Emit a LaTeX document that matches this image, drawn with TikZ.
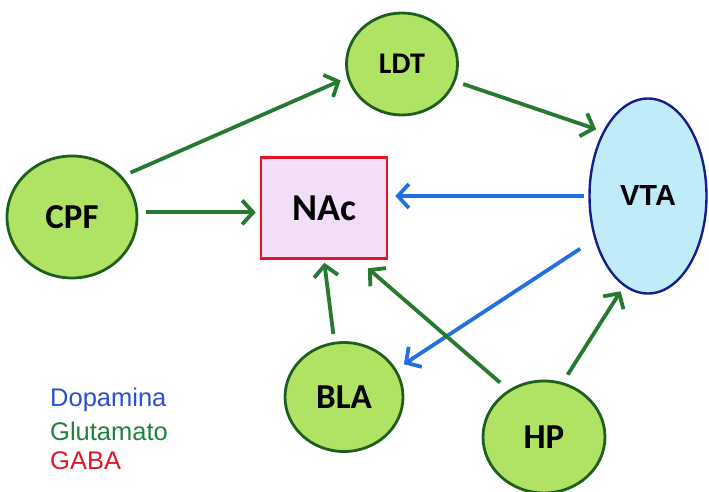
\documentclass[tikz,border=0pt]{standalone}
\usepackage{fontspec}
\setmainfont{Liberation Sans}
\newfontfamily\labfont{Carlito}
\usetikzlibrary{shapes.geometric,arrows.meta,calc}
\definecolor{nodegreen}{RGB}{176,226,100}
\definecolor{bordergreen}{RGB}{30,95,30}
\definecolor{arrgreen}{RGB}{38,122,48}
\definecolor{arrblue}{RGB}{32,112,225}
\definecolor{nacfill}{RGB}{242,222,246}
\definecolor{nacborder}{RGB}{228,22,40}
\definecolor{vtafill}{RGB}{192,236,250}
\definecolor{vtaborder}{RGB}{22,30,140}
\definecolor{legblue}{RGB}{40,80,210}
\definecolor{leggreen}{RGB}{30,130,60}
\definecolor{legred}{RGB}{222,22,40}
\tikzset{
  region/.style={ellipse, draw=bordergreen, fill=nodegreen, line width=2.8pt, inner sep=0pt,
    font=\labfont\bfseries\fontsize{35}{38}\selectfont},
  glu/.style={draw=arrgreen, line width=3.8pt, -{Straight Barb[length=11pt,width=24pt,line width=3.8pt]}},
  dop/.style={draw=arrblue, line width=3.8pt, -{Straight Barb[length=11pt,width=24pt,line width=3.8pt]}},
  legend/.style={anchor=west, inner sep=0pt, font=\fontsize{25.5}{27}\selectfont}
}
\begin{document}
\begin{tikzpicture}[x=1pt,y=-1pt]
\useasboundingbox (0,0) rectangle (709,491);
\node[region, minimum width=130pt, minimum height=122pt] (CPF) at (72,217) {CPF};
\node[region, minimum width=111pt, minimum height=102pt, font=\labfont\bfseries\fontsize{30}{33}\selectfont] (LDT) at (402,64) {LDT};
\node[draw=nacborder, fill=nacfill, line width=2.6pt, minimum width=126pt, minimum height=101pt, inner sep=0pt,
  font=\labfont\bfseries\fontsize{38}{41}\selectfont] (NAc) at (324,208) {NAc};
\node[ellipse, draw=vtaborder, fill=vtafill, line width=2.4pt, minimum width=117pt, minimum height=195pt, inner sep=0pt,
  font=\bfseries\fontsize{29}{32}\selectfont] (VTA) at (648,196) {VTA};
\node[region, minimum width=118pt, minimum height=109pt] (BLA) at (344,397) {BLA};
\node[region, minimum width=122pt, minimum height=112pt] (HP) at (544,437) {HP};

\draw[glu, shorten <=9pt, shorten >=7pt] (CPF.39) -- (LDT.194);
\draw[glu, shorten <=8pt, shorten >=7pt] (LDT.342) -- (VTA.125);
\draw[glu, shorten <=8pt, shorten >=4pt] (CPF.4) -- (NAc.west |- CPF.4);
\draw[dop, shorten <=4pt, shorten >=7pt] (VTA.west) -- (NAc.east |- VTA.west);
\draw[dop, shorten <=17pt, shorten >=9pt] (VTA.219) -- (BLA.28);
\draw[glu, shorten <=8pt, shorten >=3pt] (BLA.100) -- (NAc.south);
\draw[glu, shorten <=11pt, shorten >=13pt] (HP.127) -- ($(NAc.south)!0.53!(NAc.south east)$);
\draw[glu, shorten <=9pt, shorten >=6pt] (HP.71) -- (VTA.255);

\node[legend, text=legblue] (dop) at (50,400) {Dopamina};
\node[legend, text=leggreen] (glu) at (50,431) {Glutamato};
\node[legend, text=legred] (gaba) at (50,461) {GABA};
\end{tikzpicture}
\end{document}
